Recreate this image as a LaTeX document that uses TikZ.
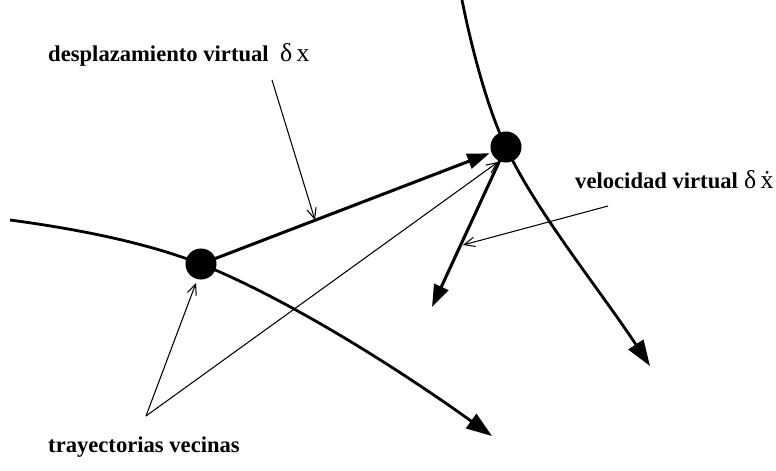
\documentclass[tikz,border=0pt]{standalone}
\usepackage{fontspec}
\setmainfont{Liberation Serif}
\usetikzlibrary{arrows.meta}
\begin{document}
\begin{tikzpicture}[x=0.03cm,y=-0.03cm,
  traj/.style={line width=2.4pt, -{Triangle[length=22pt,width=15pt]}},
  vec/.style={line width=2.6pt, -{Triangle[length=19pt,width=13pt]}},
  pointer/.style={line width=0.9pt, -{Straight Barb[length=9pt,width=8pt,line width=0.9pt]}},
  dot/.style={circle, fill=black, minimum size=26.5pt, inner sep=0pt},
  lbl/.style={font=\fontsize{19.3}{23}\selectfont\bfseries, anchor=base west, inner sep=0pt},
  sym/.style={font=\fontsize{22}{26}\selectfont, anchor=base west, inner sep=0pt}]
\useasboundingbox (0,0) rectangle (776,470);
% nodes
\node[dot] (A) at (201,264) {};
\node[dot] (B) at (506,147) {};
\coordinate (L0) at (10,220);
\coordinate (L1) at (492,436);
\coordinate (U0) at (462,0);
\coordinate (U1) at (650,366);
\coordinate (D1) at (432,307);
% trajectories
\draw[line width=2.4pt] (L0) .. controls (100,232) and (160,248) .. (A.center);
\draw[traj] (A.center) .. controls (290,300) and (400,370) .. (L1);
\draw[line width=2.4pt] (U0) .. controls (472,50) and (488,110) .. (B.center);
\draw[traj] (B.center) .. controls (535,210) and (600,290) .. (U1);
% virtual displacement and velocity
\draw[vec, shorten >=15pt] (A.center) -- (B.center);
\draw[vec] (B.center) -- (D1);
% labels
\node[lbl] (t1) at (48,61) {desplazamiento virtual};
\node[sym] (s1) at (280,61) {δ\,x};
\node[lbl] (t2) at (575,188) {velocidad virtual};
\node[sym] (s2) at (744,188) {δ\,ẋ};
\node[lbl] (t3) at (48,452) {trayectorias vecinas};
% pointer lines
\coordinate (p1) at (272,80);
\coordinate (p1t) at (315,220);
\draw[pointer] (p1) -- (p1t);
\coordinate (p2) at (608,206);
\coordinate (p2t) at (463,245);
\draw[pointer] (p2) -- (p2t);
\coordinate (v) at (146,416);
\coordinate (vA) at (196,283);
\coordinate (vB) at (498,162);
\draw[pointer] (v) -- (vA);
\draw[pointer] (v) -- (vB);
\end{tikzpicture}
\end{document}
